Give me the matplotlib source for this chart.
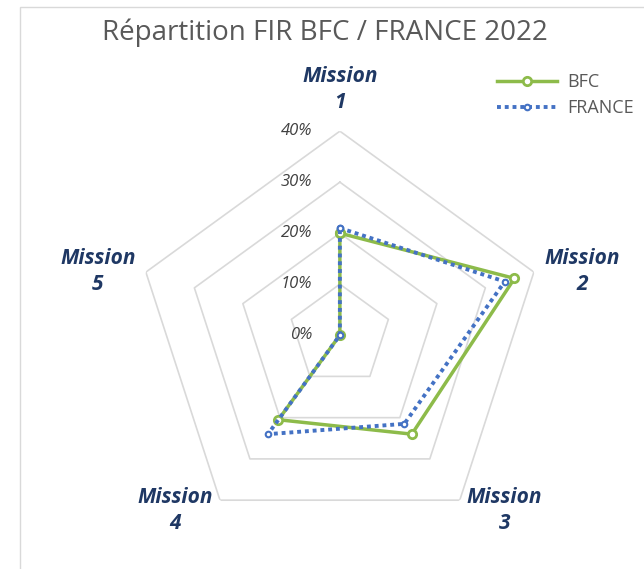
import numpy as np
import matplotlib.pyplot as plt
from matplotlib.patches import Rectangle

# Valeurs (en %)
missions = ['Mission\n1', 'Mission\n2', 'Mission\n3', 'Mission\n4', 'Mission\n5']
bfc = [20, 36, 24, 20.5, 0]
france = [21, 34, 21.5, 24, 0]
ticks = [0, 10, 20, 30, 40]

plt.rcParams['font.family'] = ['Open Sans', 'DejaVu Sans']

fig = plt.figure(figsize=(6.44, 5.69), dpi=100)
fig.patches.append(Rectangle((20 / 644, -0.1), 1.0, 1.1 - 7 / 569, transform=fig.transFigure,
                             fill=False, edgecolor='#d9d9d9', linewidth=1))

ax = fig.add_axes([0.211, 0.0525, 0.6335, 0.717], projection='polar')
ax.set_theta_offset(np.pi / 2)
ax.set_theta_direction(-1)
ax.set_ylim(0, 40)
ax.grid(False)
ax.spines['polar'].set_visible(False)
ax.set_xticks([])
ax.set_yticks([])
ax.patch.set_alpha(0)

n = len(missions)
angles = np.linspace(0, 2 * np.pi, n, endpoint=False)
closed = np.append(angles, angles[0])

# grille pentagonale
for t in ticks[1:]:
    ax.plot(closed, [t] * (n + 1), color='#d9d9d9', linewidth=1.2, zorder=1)

# étiquettes de l'axe
for t in ticks:
    ax.annotate(f'{t}%', (0, t), xytext=(-20, 0), textcoords='offset points',
                ha='right', va='center', fontsize=12, style='italic', color='#404040')

ax.plot(closed, france + [france[0]], color='#4472c4', linewidth=2.8, linestyle=(0, (1, 1)),
        marker='o', markersize=4, markerfacecolor='white', markeredgewidth=1.5,
        label='FRANCE', zorder=3)
ax.plot(closed, bfc + [bfc[0]], color='#8dbb4a', linewidth=2.5,
        marker='o', markersize=6, markerfacecolor='white', markeredgewidth=2,
        label='BFC', zorder=2)

# noms des missions
label_pos = [(0, 48.2), (75.2, 49.1), (136.9, 47.2), (223.1, 47.2), (284.8, 49.1)]
for m, (a, r) in zip(missions, label_pos):
    ax.text(np.deg2rad(a), r, m, ha='center', va='center', fontsize=15, fontweight='bold',
            style='italic', color='#1f3864', linespacing=1.3)

fig.text(0.505, 0.942, 'Répartition FIR BFC / FRANCE 2022', ha='center', va='center',
         fontsize=20, color='#595959')

h, l = ax.get_legend_handles_labels()
fig.legend(h[::-1], l[::-1], loc='upper right', bbox_to_anchor=(1.01, 0.9), frameon=False,
           fontsize=13, labelcolor='#595959', handlelength=3.3, handletextpad=0.6,
           labelspacing=0.45)

fig.savefig('out.png', dpi=100)
